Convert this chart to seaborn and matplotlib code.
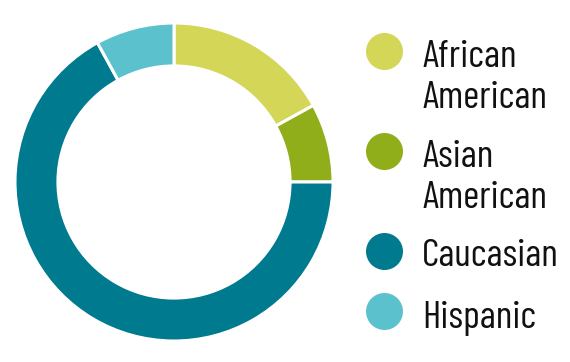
import matplotlib
matplotlib.use("Agg")
import matplotlib.pyplot as plt
import seaborn as sns

categories = ["African\nAmerican", "Asian\nAmerican", "Caucasian", "Hispanic"]
values = [17, 8, 67, 8]
colors = ["#d3d657", "#90ae1a", "#007a8f", "#5bc1cc"]

sns.set_theme(style="white")
plt.rcParams['font.family'] = ["Barlow Condensed", "DejaVu Sans"]

W, H = 570, 362
fig = plt.figure(figsize=(W / 100, H / 100), dpi=100)
ax = fig.add_axes([15 / W, (H - 341) / H, 318 / W, 318 / H])
ax.pie(values, colors=colors, startangle=90, counterclock=False,
       wedgeprops=dict(width=0.27, edgecolor="white", linewidth=2.2))
ax.set_aspect("equal")
ax.set_xlim(-1, 1)
ax.set_ylim(-1, 1)
ax.axis("off")

# legend
lax = fig.add_axes([0, 0, 1, 1])
lax.set_xlim(0, W)
lax.set_ylim(H, 0)
lax.axis("off")
circle_y = [51, 151, 251, 311]
first_base = [67, 167, 266, 328]
line_gap = 41
for lab, col, cy, by in zip(categories, colors, circle_y, first_base):
    lax.scatter([384], [cy], s=(37 * 0.72) ** 2, color=col, linewidths=0)
    for i, line in enumerate(lab.split("\n")):
        lax.text(422, by + i * line_gap, line, fontsize=28, va="baseline",
                 ha="left", color="#111111")

fig.savefig("out.png", dpi=100)
